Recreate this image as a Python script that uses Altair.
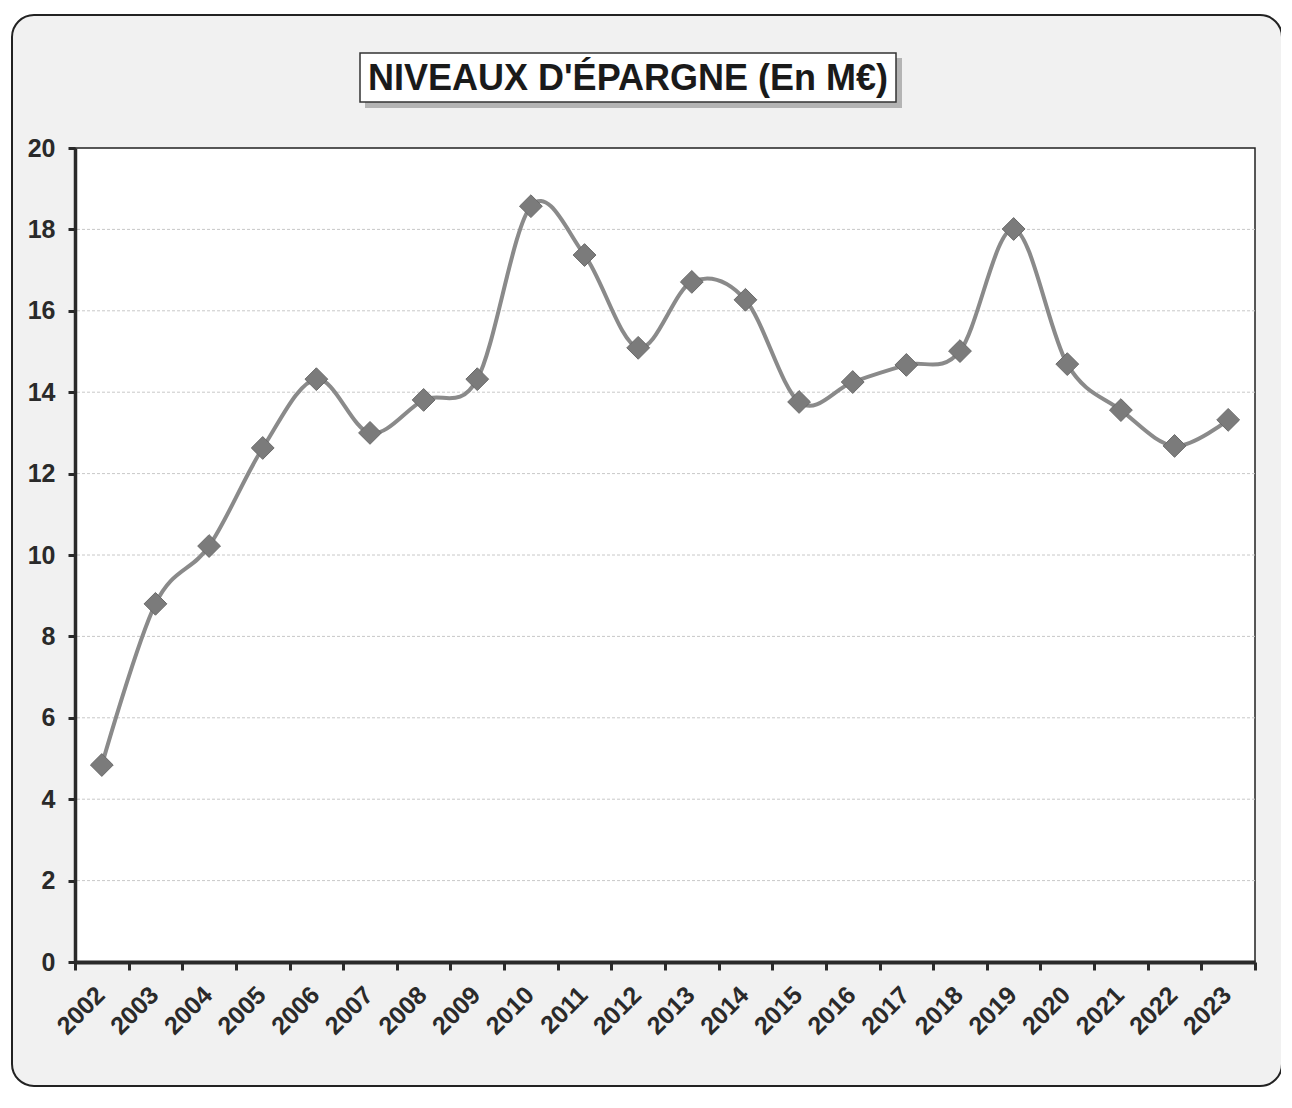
import altair as alt
import pandas as pd

years = list(range(2002, 2024))
values = [4.84, 8.80, 10.22, 12.63, 14.32, 13.00, 13.81, 14.32, 18.57, 17.37, 15.09,
          16.71, 16.27, 13.76, 14.25, 14.67, 15.01, 18.01, 14.69, 13.56, 12.68, 13.32]
y_ticks = list(range(0, 21, 2))
band_edges = [y - 0.5 for y in years] + [years[-1] + 0.5]
title_text = "NIVEAUX D'ÉPARGNE (En M€)"

df = pd.DataFrame({"year": years, "value": values})
grid_df = pd.DataFrame({"g": y_ticks[1:-1]})
one = pd.DataFrame({"t": [title_text]})

FONT = "Liberation Sans"
W, H = 1180, 814

xscale = alt.Scale(domain=[years[0] - 0.5, years[-1] + 0.5], nice=False, zero=False)
yscale = alt.Scale(domain=[0, 20], nice=False)

base = alt.Chart(df)

grid = alt.Chart(grid_df).mark_rule(color="#c8c8c8", strokeWidth=1, strokeDash=[3, 2]).encode(
    y=alt.Y("g:Q", scale=yscale, title=None,
            axis=alt.Axis(values=y_ticks, labelFont=FONT, labelFontSize=25,
                          labelFontWeight="bold", labelColor="#2a2a2a", labelPadding=13,
                          tickSize=7, tickWidth=3, tickColor="#2a2a2a",
                          domain=True, domainColor="#2a2a2a", domainWidth=3.5,
                          grid=False, orient="left", zindex=1)),
)

line = base.mark_line(interpolate="cardinal", color="#8a8a8a", strokeWidth=4).encode(
    x=alt.X("year:Q", scale=xscale, title=None,
            axis=alt.Axis(values=years, format="d", labelAngle=-45, labelAlign="right",
                          labelBaseline="top", labelFont=FONT, labelFontSize=25,
                          labelFontWeight="bold", labelColor="#2a2a2a", labelPadding=20,
                          labelOffset=-10,
                          labelOverlap=False, labelFlush=False, labelBound=False,
                          ticks=False, tickSize=0, domain=False, grid=False, orient="bottom",
                          zindex=1)),
    y=alt.Y("value:Q", scale=yscale),
)

points = base.mark_point(shape="diamond", filled=True, size=520, color="#7b7b7b",
                         stroke="#6a6a6a", strokeWidth=1, opacity=1).encode(
    x=alt.X("year:Q", scale=xscale, title=None,
            axis=alt.Axis(values=band_edges, labels=False, ticks=True, tickSize=8,
                          tickWidth=3, tickColor="#2a2a2a", domain=True,
                          domainColor="#2a2a2a", domainWidth=4, grid=False, orient="bottom",
                          zindex=1)),
    y=alt.Y("value:Q", scale=yscale),
)

frame = alt.Chart(one).mark_rect(fill="#f1f1f1", stroke="#222222", strokeWidth=2,
                                 cornerRadius=22).encode(
    x=alt.value(-63), x2=alt.value(1207), y=alt.value(-133), y2=alt.value(938))

plot_bg = alt.Chart(one).mark_rect(fill="white", stroke="#222222", strokeWidth=1.5).encode(
    x=alt.value(0), x2=alt.value(W), y=alt.value(0), y2=alt.value(H))

shadow = alt.Chart(one).mark_rect(fill="#9a9a9a", opacity=0.7).encode(
    x=alt.value(290), x2=alt.value(827), y=alt.value(-90), y2=alt.value(-40))
tbox = alt.Chart(one).mark_rect(fill="white", stroke="#333333", strokeWidth=1.5).encode(
    x=alt.value(285), x2=alt.value(821), y=alt.value(-95), y2=alt.value(-46))
ttext = alt.Chart(one).mark_text(font=FONT, fontSize=36, fontWeight="bold", color="#1a1a1a",
                                 align="center", baseline="middle").encode(
    x=alt.value(553), y=alt.value(-69), text="t:N")

data_layers = alt.layer(grid, line, points).resolve_axis(x="independent")

chart = alt.layer(frame, plot_bg, shadow, tbox, ttext, data_layers).properties(
    width=W, height=H,
    padding={"left": 67, "top": 140, "right": 26, "bottom": 130},
    autosize=alt.AutoSizeParams(type="none"),
).configure(background="white").configure_view(stroke=None)

chart.save("out.html", embed_options={"renderer": "svg", "actions": False})
